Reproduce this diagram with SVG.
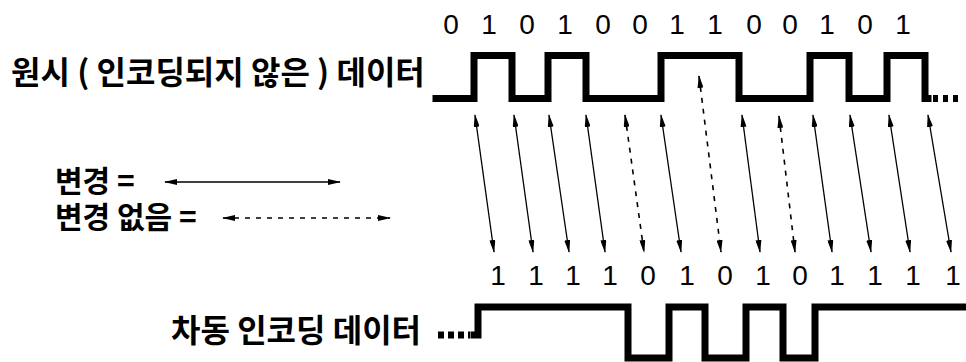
<svg xmlns="http://www.w3.org/2000/svg" width="966" height="362" viewBox="0 0 966 362">
<defs>
<style>
.lbl{font-family:"Noto Sans CJK KR","Liberation Sans",sans-serif;font-weight:bold;font-size:32px;fill:#000}
.leg{font-size:30px}
.bit{font-family:"Liberation Sans",Arial,sans-serif;font-size:28px;fill:#000;text-anchor:middle}
.wave{fill:none;stroke:#000;stroke-width:7;stroke-linejoin:miter;stroke-linecap:square}
.dots{fill:none;stroke:#000;stroke-width:7;stroke-dasharray:5 5}
.chg{fill:none;stroke:#000;stroke-width:1.3;marker-start:url(#ah);marker-end:url(#ah)}
.nochg{fill:none;stroke:#000;stroke-width:1.6;stroke-dasharray:5 6;marker-start:url(#ah);marker-end:url(#ah)}
</style>
<marker id="ah" viewBox="0 0 13 6" refX="12" refY="3" markerWidth="13" markerHeight="6" markerUnits="userSpaceOnUse" orient="auto-start-reverse">
<path d="M0,0 L13,3 L0,6 z" fill="#000"/>
</marker>
</defs>
<g id="label-original">
<text class="lbl" x="11" y="84">원시 ( 인코딩되지 않은 ) 데이터</text>
</g>
<g id="bits-original">
<text class="bit" x="451" y="34">0</text>
<text class="bit" x="489" y="34">1</text>
<text class="bit" x="527" y="34">0</text>
<text class="bit" x="565" y="34">1</text>
<text class="bit" x="603" y="34">0</text>
<text class="bit" x="640" y="34">0</text>
<text class="bit" x="677" y="34">1</text>
<text class="bit" x="715" y="34">1</text>
<text class="bit" x="754" y="34">0</text>
<text class="bit" x="790" y="34">0</text>
<text class="bit" x="827" y="34">1</text>
<text class="bit" x="865" y="34">0</text>
<text class="bit" x="903" y="34">1</text>
</g>
<g id="wave-original">
<path class="wave" d="M436,98.5 H474 V55.5 H512 V98.5 H548 V55.5 H586 V98.5 H661 V55.5 H739 V98.5 H810 V55.5 H849 V98.5 H887 V55.5 H925 V98.5 H928"/>
<line class="dots" x1="933" y1="98.5" x2="960" y2="98.5"/>
</g>
<g id="legend">
<text class="lbl leg" x="55" y="192">변경 =</text>
<text class="lbl leg" x="55" y="228">변경 없음 =</text>
<line class="chg" x1="165" y1="182" x2="340" y2="182"/>
<line class="nochg" x1="223" y1="218" x2="390" y2="218"/>
</g>
<g id="connectors">
<line class="chg" x1="475" y1="115" x2="494" y2="252"/>
<line class="chg" x1="514" y1="115" x2="533" y2="252"/>
<line class="chg" x1="549" y1="115" x2="569" y2="252"/>
<line class="chg" x1="586" y1="115" x2="605" y2="252"/>
<line class="nochg" x1="625" y1="115" x2="644" y2="252"/>
<line class="chg" x1="661" y1="115" x2="681" y2="252"/>
<line class="nochg" x1="699" y1="76" x2="721" y2="252"/>
<line class="chg" x1="742" y1="115" x2="760" y2="252"/>
<line class="nochg" x1="779" y1="116" x2="795" y2="252"/>
<line class="chg" x1="813" y1="115" x2="832" y2="252"/>
<line class="chg" x1="850" y1="115" x2="871" y2="252"/>
<line class="chg" x1="889" y1="115" x2="910" y2="252"/>
<line class="chg" x1="928" y1="115" x2="951" y2="252"/>
</g>
<g id="bits-encoded">
<text class="bit" x="498" y="285">1</text>
<text class="bit" x="536" y="285">1</text>
<text class="bit" x="573" y="285">1</text>
<text class="bit" x="610" y="285">1</text>
<text class="bit" x="648" y="285">0</text>
<text class="bit" x="687" y="285">1</text>
<text class="bit" x="725" y="285">0</text>
<text class="bit" x="763" y="285">1</text>
<text class="bit" x="800" y="285">0</text>
<text class="bit" x="837" y="285">1</text>
<text class="bit" x="875" y="285">1</text>
<text class="bit" x="913" y="285">1</text>
<text class="bit" x="953" y="285">1</text>
</g>
<g id="label-encoded">
<text class="lbl" x="171" y="342">차동 인코딩 데이터</text>
</g>
<g id="wave-encoded">
<line class="dots" x1="438" y1="335" x2="470" y2="335" style="stroke-dasharray:6 4"/>
<path class="wave" d="M474,335 H478 V307 H628 V358 H669 V307 H705 V358 H746 V307 H783 V358 H815 V307 H966"/>
</g>
</svg>
